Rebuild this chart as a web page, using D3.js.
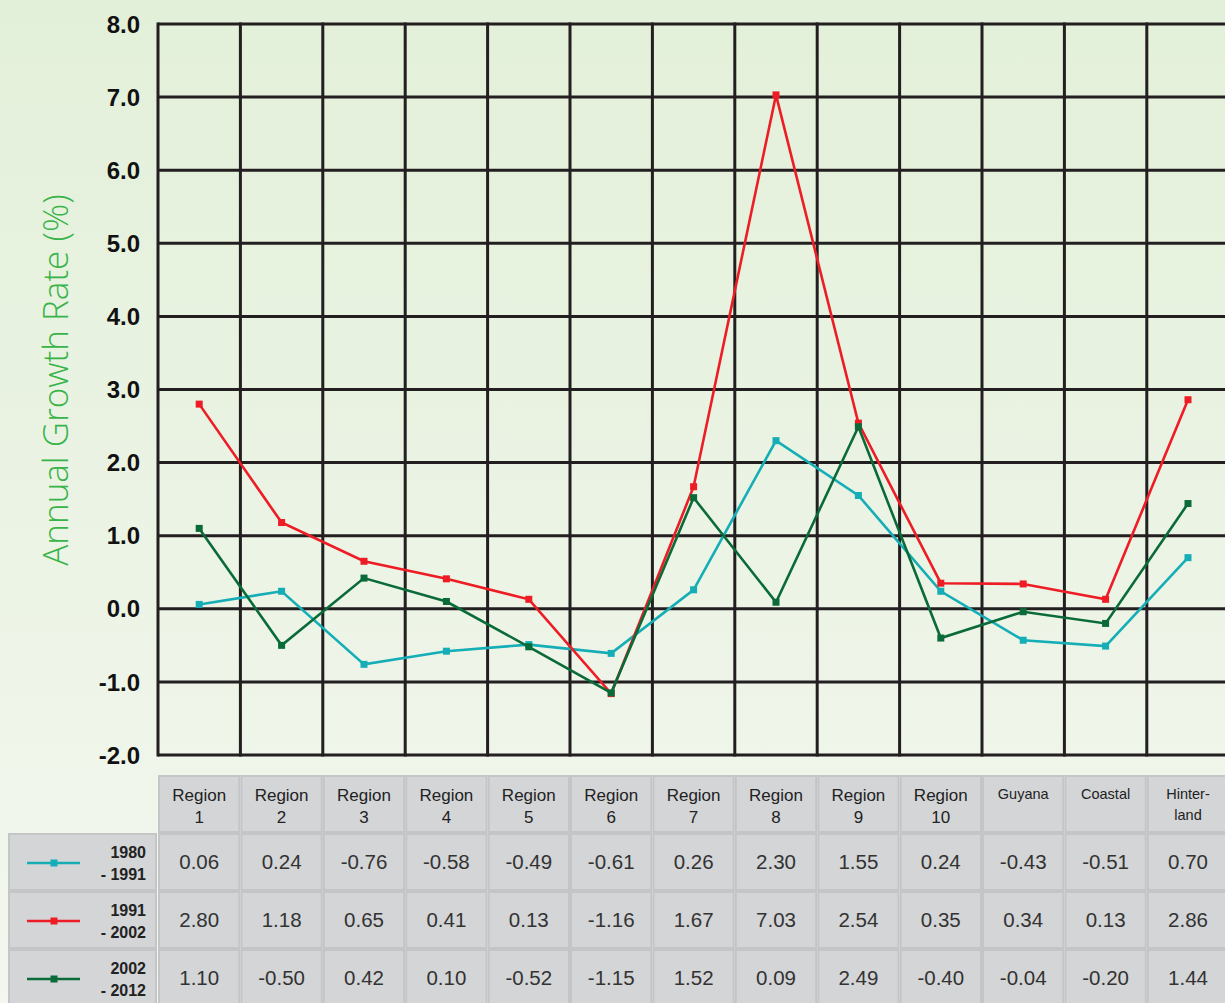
<!DOCTYPE html>
<html><head><meta charset="utf-8">
<script src="https://cdn.jsdelivr.net/npm/d3@7/dist/d3.min.js"></script>
<style>html,body{margin:0;padding:0;overflow:hidden;}svg{display:block;}</style>
</head><body>
<svg id="chart" width="1225" height="1003"></svg>
<script>
const categories = ["Region 1","Region 2","Region 3","Region 4","Region 5","Region 6","Region 7","Region 8","Region 9","Region 10","Guyana","Coastal","Hinterland"];
const headerLines = [["Region","1"],["Region","2"],["Region","3"],["Region","4"],["Region","5"],["Region","6"],["Region","7"],["Region","8"],["Region","9"],["Region","10"],["Guyana"],["Coastal"],["Hinter-","land"]];
const seriesNames = [["1980","- 1991"],["1991","- 2002"],["2002","- 2012"]];
const s1980 = [0.06,0.24,-0.76,-0.58,-0.49,-0.61,0.26,2.30,1.55,0.24,-0.43,-0.51,0.70];
const s1991 = [2.80,1.18,0.65,0.41,0.13,-1.16,1.67,7.03,2.54,0.35,0.34,0.13,2.86];
const s2002 = [1.10,-0.50,0.42,0.10,-0.52,-1.15,1.52,0.09,2.49,-0.40,-0.04,-0.20,1.44];
const yTicks = [-2,-1,0,1,2,3,4,5,6,7,8];
const colors = ["#15aeb6","#ee1c25","#0a6b38"];
const series = [s1980, s1991, s2002];

const svg = d3.select("#chart");
const defs = svg.append("defs");
const grad = defs.append("linearGradient").attr("id","bg").attr("x1",0).attr("y1",0).attr("x2",0).attr("y2",1);
grad.append("stop").attr("offset","0%").attr("stop-color","#e3f0d9");
grad.append("stop").attr("offset","100%").attr("stop-color","#f3f7ef");
svg.append("rect").attr("width",1225).attr("height",1003).attr("fill","url(#bg)");

const x = d3.scaleBand().domain(categories).range([158, 158+13*82.4]).padding(0);
const y = d3.scaleLinear().domain([-2,8]).range([755,24]);

// grid
const g = svg.append("g");
g.selectAll("line.h").data(yTicks).join("line")
  .attr("x1",158).attr("x2",1230).attr("y1",d=>y(d)).attr("y2",d=>y(d))
  .attr("stroke","#231f20").attr("stroke-width",3);
const vx = categories.map(c=>x(c));
g.selectAll("line.v").data(vx).join("line")
  .attr("x1",d=>d).attr("x2",d=>d).attr("y1",y(8)-1.5).attr("y2",y(-2)+1.5)
  .attr("stroke","#231f20").attr("stroke-width",3);

// y tick labels
svg.append("g").selectAll("text").data(yTicks).join("text")
  .attr("x",140).attr("y",d=>y(d)).attr("dy","0.36em")
  .attr("text-anchor","end").attr("font-family","Liberation Sans, Arial, sans-serif")
  .attr("font-weight","bold").attr("font-size",24).attr("fill","#111")
  .text(d=>d.toFixed(1));

// y title
svg.append("text").attr("transform","translate(68,380) rotate(-90)")
  .attr("text-anchor","middle").attr("font-family","Open Sans, Liberation Sans, sans-serif")
  .attr("font-weight",300)
  .attr("font-size",35).attr("fill","#38b449").text("Annual Growth Rate (%)");

// lines
const line = d3.line().x((d,i)=>x(categories[i])+x.bandwidth()/2).y(d=>y(d));
series.forEach((s,k)=>{
  const gg = svg.append("g");
  gg.append("path").datum(s).attr("d",line).attr("fill","none")
    .attr("stroke",colors[k]).attr("stroke-width",2.6);
  gg.selectAll("rect").data(s).join("rect")
    .attr("x",(d,i)=>x(categories[i])+x.bandwidth()/2-3.5)
    .attr("y",d=>y(d)-3.5).attr("width",7).attr("height",7).attr("fill",colors[k]);
});

// table
const tg = svg.append("g").attr("font-family","Liberation Sans, Arial, sans-serif");
const cellFill = "#d3d5d7", cellStroke = "#c3c5c7";
const headTop = 775, headH = 58, rowH = 58;
categories.forEach((c,i)=>{
  tg.append("rect").attr("x",x(c)+1).attr("y",headTop+1).attr("width",x.bandwidth()-2).attr("height",headH-2)
    .attr("fill",cellFill).attr("stroke",cellStroke).attr("stroke-width",2);
  const lines = headerLines[i];
  const small = lines[0]==="Guyana"||lines[0]==="Coastal"||lines[0]==="Hinter-";
  const t = tg.append("text").attr("text-anchor","middle").attr("fill","#222")
    .attr("font-size",small?14.5:17);
  lines.forEach((l,j)=>{
    t.append("tspan").attr("x",x(c)+x.bandwidth()/2)
      .attr("y", small ? headTop+24+j*21 : headTop+26+j*22).text(l);
  });
});
series.forEach((s,k)=>{
  const top = headTop+headH+k*rowH;
  tg.append("rect").attr("x",9).attr("y",top+1).attr("width",149-2).attr("height",rowH-2)
    .attr("fill",cellFill).attr("stroke",cellStroke).attr("stroke-width",2);
  tg.append("line").attr("x1",27).attr("x2",80).attr("y1",top+30).attr("y2",top+30)
    .attr("stroke",colors[k]).attr("stroke-width",2.5);
  tg.append("rect").attr("x",50.5).attr("y",top+26.5).attr("width",7).attr("height",7).attr("fill",colors[k]);
  const t = tg.append("text").attr("text-anchor","end").attr("fill","#222").attr("font-size",16).attr("font-weight","bold");
  seriesNames[k].forEach((l,j)=>t.append("tspan").attr("x",146).attr("y",top+25+j*22).text(l));
  s.forEach((v,i)=>{
    const c = categories[i];
    tg.append("rect").attr("x",x(c)+1).attr("y",top+1).attr("width",x.bandwidth()-2).attr("height",rowH-2)
      .attr("fill",cellFill).attr("stroke",cellStroke).attr("stroke-width",2);
    tg.append("text").attr("x",x(c)+x.bandwidth()/2).attr("y",top+rowH/2).attr("dy","0.36em")
      .attr("text-anchor","middle").attr("font-size",20.5).attr("fill","#333").text(v.toFixed(2));
  });
});
</script>
</body></html>
